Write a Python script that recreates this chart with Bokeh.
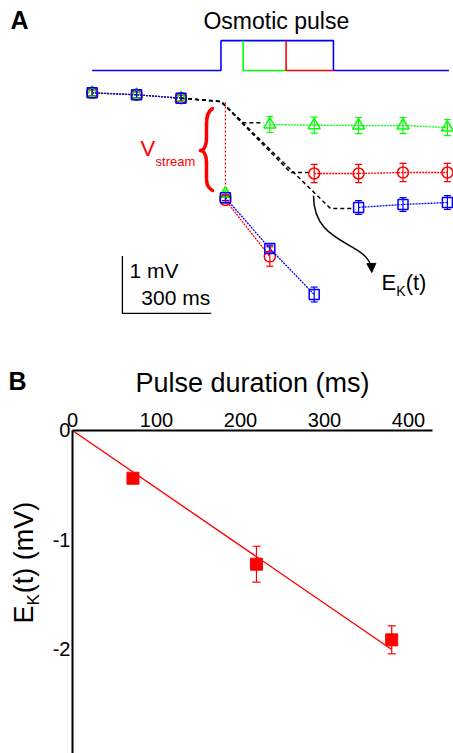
import math
from bokeh.plotting import figure
from bokeh.models import (Range1d, Label, Whisker, TeeHead, ColumnDataSource,
                          Arrow, NormalHead, FixedTicker, LinearAxis)
from bokeh.embed import file_html
from bokeh.resources import INLINE

FONT = "Liberation Sans"
BLUE = "#0000ff"
RED = "#ff0000"
GREEN = "#00ff00"

# ---------------- Panel A data (time in ms, potential in mV) ----------------
t_ms = [0, 150, 300, 450, 600, 750, 900, 1050, 1200]
green_mV = [0.0, -0.035, -0.094, -1.76, -0.553, -0.565, -0.571, -0.571, -0.606]
green_err = [0.05, 0.05, 0.05, 0.05, 0.14, 0.14, 0.14, 0.14, 0.14]
red_mV = [0.0, -0.035, -0.094, -1.87, -2.857, -1.408, -1.408, -1.391, -1.391]
red_err = [0.05, 0.05, 0.05, 0.05, 0.17, 0.16, 0.16, 0.16, 0.16]
blue_mV = [0.0, -0.035, -0.094, -1.83, -2.717, -3.52, -2.00, -1.949, -1.914]
blue_err = [0.06, 0.06, 0.06, 0.05, 0.06, 0.13, 0.12, 0.12, 0.12]
# index runs joined by dotted lines
green_runs = [(0, 3), (4, 9)]
red_runs = [(0, 3), (3, 5), (5, 9)]
blue_runs = [(0, 3), (3, 6), (6, 9)]

# osmotic pulse schematic
pulse_onset = 435
pulse_dur = {"green": 75, "red": 220, "blue": 380}
pulse_base = 0.39
pulse_top = 0.91
pulse_t_end = 1205

# E_K(t) dashed branches
ek_green_t = [300, 435, 511, 579]
ek_green_v = [-0.094, -0.152, -0.524, -0.524]
ek_red_t = [300, 435, 670, 731]
ek_red_v = [-0.094, -0.152, -1.39, -1.39]
ek_blue_t = [300, 435, 805, 883]
ek_blue_v = [-0.094, -0.152, -2.019, -2.019]

# V_stream marker
vstream_t = [450, 450]
vstream_v = [-0.17, -1.64]

# scale bar
scale_ms = 300
scale_mV = 1
scale_origin = (102, -3.85)

# ---------------- Panel B data ----------------
dur_ms = [72, 219, 380]
ek_mV = [-0.436, -1.221, -1.912]
ek_err = [0.03, 0.164, 0.128]
fit_x = [0, 380]
fit_y = [0, -2.0]
xb_ticks = [0, 100, 200, 300, 400]
yb_ticks = [0, -1, -2]
xb_span = (0, 428.6)
yb_span = (-2.95, 0)

# ======================= one canvas, two coordinate systems =======================
p = figure(width=453, height=753, x_range=Range1d(-309.8, 1220.6),
           y_range=Range1d(-11.53, 1.611), x_axis_location=None,
           y_axis_location=None, toolbar_location=None, output_backend="svg",
           min_border=0)
p.extra_x_ranges = {"B": Range1d(-85.71, 453.57)}
p.extra_y_ranges = {"B": Range1d(-2.950, 3.927)}
p.outline_line_color = None
p.grid.grid_line_color = None

# ---------- Panel A ----------
b, T = pulse_base, pulse_top
p.line([0, pulse_onset, pulse_onset, pulse_onset + pulse_dur["blue"],
        pulse_onset + pulse_dur["blue"], pulse_t_end],
       [b, b, T, T, b, b], line_color=BLUE, line_width=1.6)
g_end = pulse_onset + pulse_dur["green"]
r_end = pulse_onset + pulse_dur["red"]
p.line([g_end, g_end, r_end], [T, b, b], line_color=GREEN, line_width=1.6)
p.line([r_end, r_end, pulse_onset + pulse_dur["blue"]], [T, b, b],
       line_color=RED, line_width=1.6)

p.multi_line([ek_green_t, ek_red_t, ek_blue_t], [ek_green_v, ek_red_v, ek_blue_v],
             line_color="black", line_width=1.5, line_dash="4 3")

p.line(vstream_t, vstream_v, line_color=RED, line_width=1.2, line_dash="2 2")


def series(vals, errs, runs, color, marker, size):
    xs = [t_ms[a:b_] for a, b_ in runs]
    ys = [vals[a:b_] for a, b_ in runs]
    p.multi_line(xs, ys, line_color=color, line_width=1.3, line_dash="2 1")
    src = ColumnDataSource(dict(t=t_ms, v=vals,
                                lo=[v - e for v, e in zip(vals, errs)],
                                hi=[v + e for v, e in zip(vals, errs)]))
    p.add_layout(Whisker(source=src, base="t", lower="lo", upper="hi",
                         line_color=color, line_width=1.2,
                         upper_head=TeeHead(size=7, line_color=color, line_width=1.2),
                         lower_head=TeeHead(size=7, line_color=color, line_width=1.2)))
    p.scatter("t", "v", source=src, marker=marker, size=size, fill_color=None,
              line_color=color, line_width=1.5)


series(green_mV, green_err, green_runs, GREEN, "triangle", 12)
series(red_mV, red_err, red_runs, RED, "circle", 11)
series(blue_mV, blue_err, blue_runs, BLUE, "square", 10)

# brace for V_stream
p.bezier(x0=[406.4, 386.1, 365.9, 386.1], y0=[-0.274, -0.798, -1.007, -1.461],
         x1=[386.1, 365.9, 386.1, 406.4], y1=[-0.553, -1.007, -1.216, -1.705],
         cx0=[389.5, 386.1, 376.0, 386.1], cy0=[-0.326, -0.937, -1.007, -1.600],
         cx1=[386.1, 376.0, 386.1, 389.5], cy1=[-0.414, -1.007, -1.077, -1.653],
         line_color=RED, line_width=3.5, line_cap="round")
p.segment(x0=[386.1, 386.1], y0=[-0.553, -1.216], x1=[386.1, 386.1], y1=[-0.798, -1.461],
          line_color=RED, line_width=3.5, line_cap="round")

# curved arrow towards E_K(t)
p.bezier(x0=[747.6], y0=[-1.796], x1=[943.6], y1=[-3.05],
         cx0=[747.6], cy0=[-2.668], cx1=[923.0], cy1=[-2.577],
         line_color="black", line_width=1.5)
p.add_layout(Arrow(end=NormalHead(size=9, fill_color="black", line_color="black"),
                   x_start=943.3, y_start=-3.0, x_end=944.5, y_end=-3.136,
                   line_color="black", line_width=1.5))

# scale bar
ox, oy = scale_origin
p.line([ox, ox, ox + scale_ms], [oy + scale_mV, oy, oy], line_color="black", line_width=1.3)


def lab(x, y, text, size, color="black", bold=False, align="left", angle=0.0, rng=None):
    kw = {}
    if rng:
        kw = dict(x_range_name=rng, y_range_name=rng)
    p.add_layout(Label(x=x, y=y, text=text, text_font=FONT, text_font_size=size,
                       text_color=color, text_align=align, text_baseline="alphabetic",
                       text_font_style="bold" if bold else "normal", angle=angle, **kw))


lab(-276, 1.262, "A", "25px", bold=True)
lab(622, 1.247, "Osmotic pulse", "23px", align="center")
lab(163, -0.975, "V", "22px", color=RED)
lab(214, -1.197, "stream", "13px", color=RED)
lab(126, -3.093, "1 mV", "21px")
lab(166, -3.565, "300 ms", "21px")
lab(977, -3.316, "E", "22px")
lab(1027, -3.457, "K", "14px")
lab(1059, -3.316, "(t)", "22px")

# ---------- Panel B ----------
xaxB = LinearAxis(x_range_name="B", y_range_name="B", fixed_location=0, bounds=xb_span,
                  ticker=FixedTicker(ticks=xb_ticks))
yaxB = LinearAxis(x_range_name="B", y_range_name="B", fixed_location=0, bounds=yb_span,
                  ticker=FixedTicker(ticks=yb_ticks),
                  major_label_overrides={0: "0", -1: "-1", -2: "-2"})
for ax in (xaxB, yaxB):
    ax.axis_line_width = 2
    ax.axis_line_color = "black"
    ax.major_tick_line_color = None
    ax.minor_tick_line_color = None
    ax.major_tick_out = 0
    ax.major_tick_in = 0
    ax.minor_tick_out = 0
    ax.minor_tick_in = 0
    ax.major_label_text_font = FONT
    ax.major_label_text_font_size = "20px"
    ax.major_label_text_color = "black"
xaxB.major_label_standoff = 3
yaxB.major_label_standoff = 2
xaxB.axis_label = "Pulse duration (ms)"
xaxB.axis_label_text_font = FONT
xaxB.axis_label_text_font_size = "27px"
xaxB.axis_label_text_font_style = "normal"
xaxB.axis_label_text_color = "black"
xaxB.axis_label_standoff = 13
p.add_layout(xaxB, "above")
p.add_layout(yaxB, "left")

p.line(fit_x, fit_y, line_color=RED, line_width=1.4, x_range_name="B", y_range_name="B")
srcB = ColumnDataSource(dict(x=dur_ms, y=ek_mV,
                             lo=[v - e for v, e in zip(ek_mV, ek_err)],
                             hi=[v + e for v, e in zip(ek_mV, ek_err)]))
p.add_layout(Whisker(source=srcB, base="x", lower="lo", upper="hi",
                     line_color=RED, line_width=1.2, x_range_name="B", y_range_name="B",
                     upper_head=TeeHead(size=8, line_color=RED, line_width=1.2),
                     lower_head=TeeHead(size=8, line_color=RED, line_width=1.2)))
p.scatter("x", "y", source=srcB, marker="square", size=12, fill_color=RED, line_color=RED,
          x_range_name="B", y_range_name="B")

half_pi = math.pi / 2
lab(-76.2, 0.456, "B", "25px", bold=True, rng="B")
lab(-57.9, -1.763, "E", "27px", angle=half_pi, rng="B")
lab(-46.7, -1.598, "K", "17px", angle=half_pi, rng="B")
lab(-57.9, -1.486, "(t) (mV)", "27px", angle=half_pi, rng="B")

open("out.html", "w").write(file_html(p, INLINE))
